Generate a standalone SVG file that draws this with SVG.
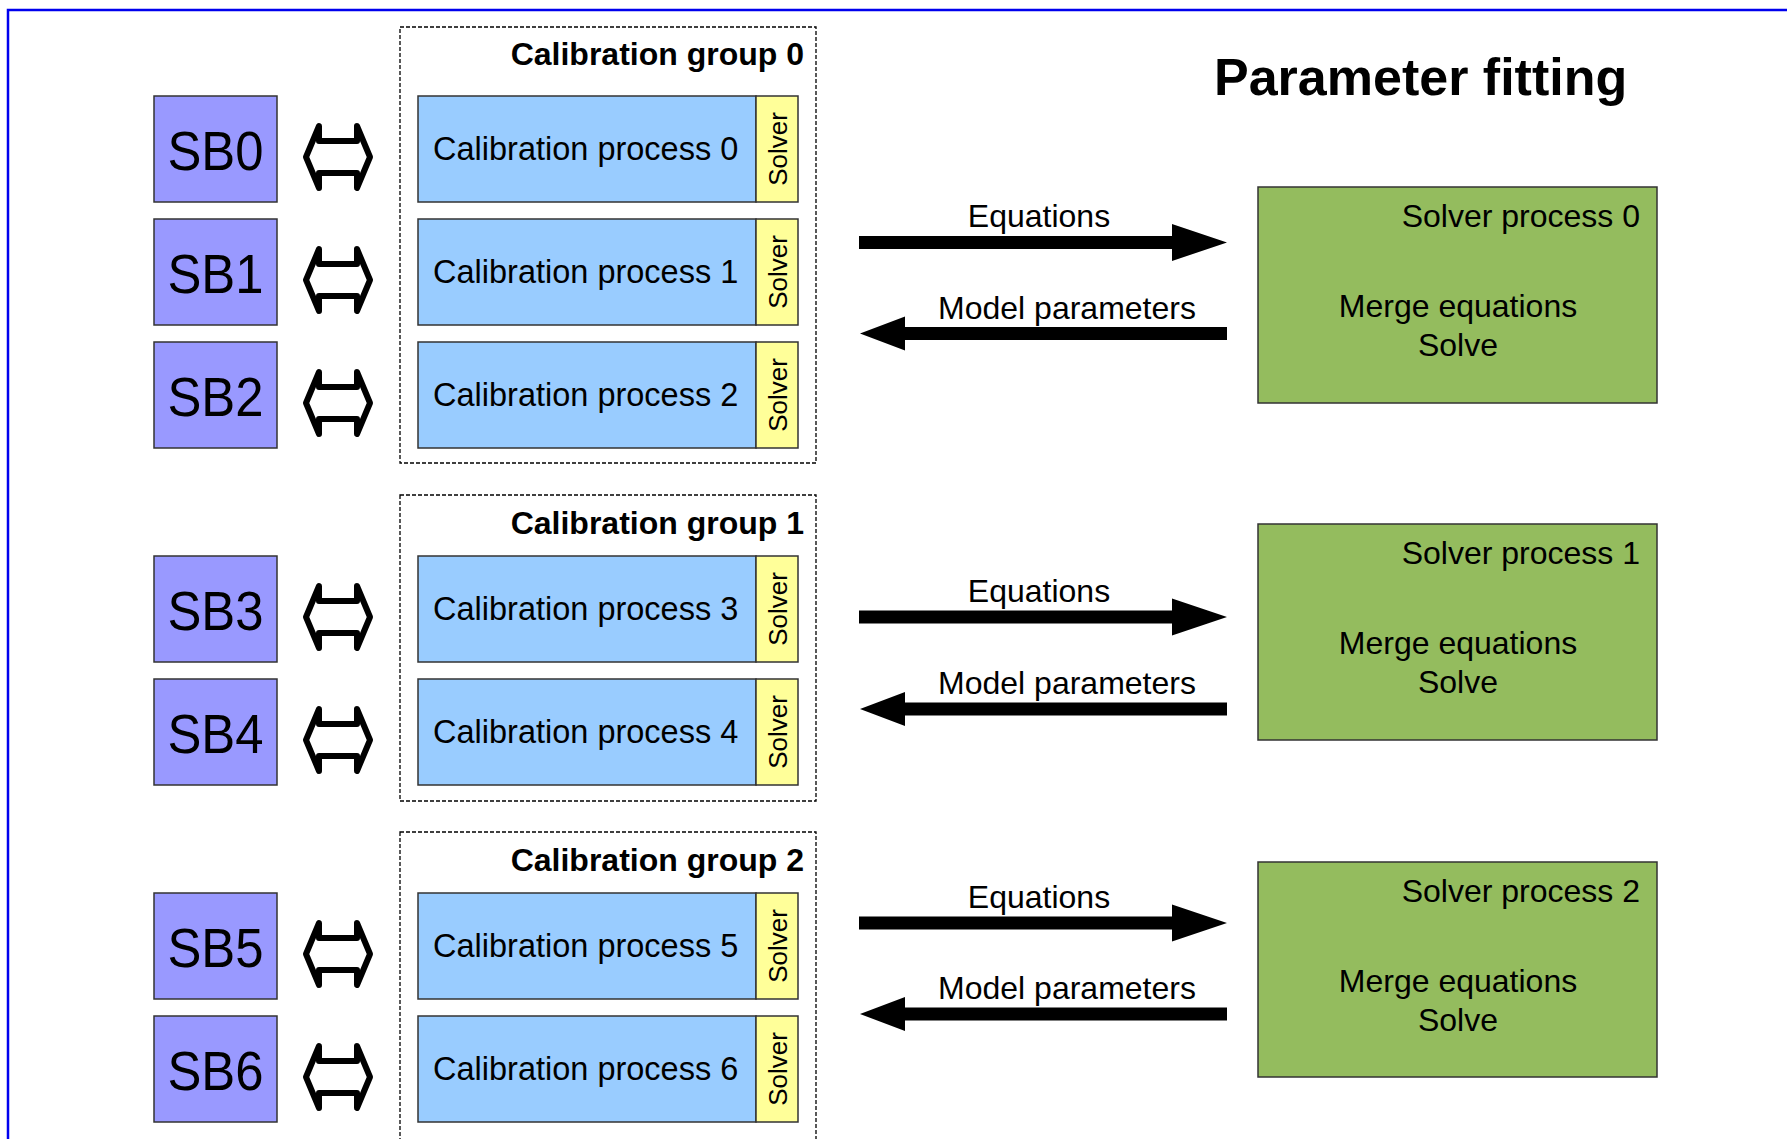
<svg xmlns="http://www.w3.org/2000/svg" width="1787" height="1139" viewBox="0 0 1787 1139">
<style>
text{font-family:"Liberation Sans",Arial,sans-serif;fill:#000}
.sb{fill:#9999ff;stroke:#333;stroke-width:1.5}
.cp{fill:#99ccff;stroke:#333;stroke-width:1.5}
.sv{fill:#ffff99;stroke:#333;stroke-width:1.5}
.sp{fill:#94bc5e;stroke:#333;stroke-width:1.5}
.grp{fill:none;stroke:#000;stroke-width:1.3;stroke-dasharray:4,2}
.sbt{font-size:56px;text-anchor:middle}
.cpt{font-size:32.5px}
.svt{font-size:26px;text-anchor:middle}
.gt{font-size:32px;font-weight:bold;text-anchor:end}
.lbl{font-size:32px;text-anchor:middle}
.spt{font-size:32px}
.dbl{fill:#fff;stroke:#000;stroke-width:6;stroke-linejoin:round}
.arr{fill:#000}
</style>
<defs>
<polygon id="dbl" class="dbl" points="-19,-31 -19,-16 19,-16 19,-31 32,0 19,31 19,16 -19,16 -19,31 -32,0"/>
<polygon id="ar" class="arr" points="0,-6.5 313,-6.5 313,-18.5 368,0 313,18.5 313,6.5 0,6.5"/>
<polygon id="al" class="arr" points="0,0 45,-17 45,-6.5 367,-6.5 367,6.5 45,6.5 45,17"/>
</defs>
<path d="M8,1139 V10 H1787" fill="none" stroke="#0000ee" stroke-width="2.5"/>
<text x="1214" y="95" style="font-size:52px;font-weight:bold">Parameter fitting</text>

<g id="group0">
<rect class="grp" x="400" y="27" width="416" height="436"/>
<text class="gt" x="804" y="65">Calibration group 0</text>
</g>
<g id="group1">
<rect class="grp" x="400" y="495" width="416" height="306"/>
<text class="gt" x="804" y="534">Calibration group 1</text>
</g>
<g id="group2">
<rect class="grp" x="400" y="832" width="416" height="330"/>
<text class="gt" x="804" y="871">Calibration group 2</text>
</g>

<g id="sb0"><rect class="sb" x="154" y="96" width="123" height="106"/><text class="sbt" x="215.5" y="170" textLength="96" lengthAdjust="spacingAndGlyphs">SB0</text></g>
<g id="sb1"><rect class="sb" x="154" y="219" width="123" height="106"/><text class="sbt" x="215.5" y="293" textLength="96" lengthAdjust="spacingAndGlyphs">SB1</text></g>
<g id="sb2"><rect class="sb" x="154" y="342" width="123" height="106"/><text class="sbt" x="215.5" y="416" textLength="96" lengthAdjust="spacingAndGlyphs">SB2</text></g>
<g id="sb3"><rect class="sb" x="154" y="556" width="123" height="106"/><text class="sbt" x="215.5" y="630" textLength="96" lengthAdjust="spacingAndGlyphs">SB3</text></g>
<g id="sb4"><rect class="sb" x="154" y="679" width="123" height="106"/><text class="sbt" x="215.5" y="753" textLength="96" lengthAdjust="spacingAndGlyphs">SB4</text></g>
<g id="sb5"><rect class="sb" x="154" y="893" width="123" height="106"/><text class="sbt" x="215.5" y="967" textLength="96" lengthAdjust="spacingAndGlyphs">SB5</text></g>
<g id="sb6"><rect class="sb" x="154" y="1016" width="123" height="106"/><text class="sbt" x="215.5" y="1090" textLength="96" lengthAdjust="spacingAndGlyphs">SB6</text></g>

<g id="cp0"><rect class="cp" x="418" y="96" width="338" height="106"/><rect class="sv" x="756" y="96" width="42" height="106"/><text class="cpt" x="433" y="160">Calibration process 0</text><text class="svt" transform="translate(787,149) rotate(-90)">Solver</text></g>
<g id="cp1"><rect class="cp" x="418" y="219" width="338" height="106"/><rect class="sv" x="756" y="219" width="42" height="106"/><text class="cpt" x="433" y="283">Calibration process 1</text><text class="svt" transform="translate(787,272) rotate(-90)">Solver</text></g>
<g id="cp2"><rect class="cp" x="418" y="342" width="338" height="106"/><rect class="sv" x="756" y="342" width="42" height="106"/><text class="cpt" x="433" y="406">Calibration process 2</text><text class="svt" transform="translate(787,395) rotate(-90)">Solver</text></g>
<g id="cp3"><rect class="cp" x="418" y="556" width="338" height="106"/><rect class="sv" x="756" y="556" width="42" height="106"/><text class="cpt" x="433" y="620">Calibration process 3</text><text class="svt" transform="translate(787,609) rotate(-90)">Solver</text></g>
<g id="cp4"><rect class="cp" x="418" y="679" width="338" height="106"/><rect class="sv" x="756" y="679" width="42" height="106"/><text class="cpt" x="433" y="743">Calibration process 4</text><text class="svt" transform="translate(787,732) rotate(-90)">Solver</text></g>
<g id="cp5"><rect class="cp" x="418" y="893" width="338" height="106"/><rect class="sv" x="756" y="893" width="42" height="106"/><text class="cpt" x="433" y="957">Calibration process 5</text><text class="svt" transform="translate(787,946) rotate(-90)">Solver</text></g>
<g id="cp6"><rect class="cp" x="418" y="1016" width="338" height="106"/><rect class="sv" x="756" y="1016" width="42" height="106"/><text class="cpt" x="433" y="1080">Calibration process 6</text><text class="svt" transform="translate(787,1069) rotate(-90)">Solver</text></g>

<g id="sp0"><rect class="sp" x="1258" y="187" width="399" height="216"/><text class="spt" x="1640" y="227" text-anchor="end">Solver process 0</text><text class="spt" x="1458" y="317" text-anchor="middle">Merge equations</text><text class="spt" x="1458" y="356" text-anchor="middle">Solve</text></g>
<g id="sp1"><rect class="sp" x="1258" y="524" width="399" height="216"/><text class="spt" x="1640" y="564" text-anchor="end">Solver process 1</text><text class="spt" x="1458" y="654" text-anchor="middle">Merge equations</text><text class="spt" x="1458" y="693" text-anchor="middle">Solve</text></g>
<g id="sp2"><rect class="sp" x="1258" y="862" width="399" height="215"/><text class="spt" x="1640" y="902" text-anchor="end">Solver process 2</text><text class="spt" x="1458" y="992" text-anchor="middle">Merge equations</text><text class="spt" x="1458" y="1031" text-anchor="middle">Solve</text></g>

<g id="connectors">
<use href="#dbl" x="338" y="157"/>
<use href="#dbl" x="338" y="280"/>
<use href="#dbl" x="338" y="403"/>
<use href="#dbl" x="338" y="617"/>
<use href="#dbl" x="338" y="740"/>
<use href="#dbl" x="338" y="954"/>
<use href="#dbl" x="338" y="1077"/>
<use href="#ar" x="859" y="242.5"/>
<use href="#al" x="860" y="333.5"/>
<use href="#ar" x="859" y="617"/>
<use href="#al" x="860" y="709"/>
<use href="#ar" x="859" y="923"/>
<use href="#al" x="860" y="1014"/>
<text class="lbl" x="1039" y="227">Equations</text>
<text class="lbl" x="1067" y="319">Model parameters</text>
<text class="lbl" x="1039" y="602">Equations</text>
<text class="lbl" x="1067" y="694">Model parameters</text>
<text class="lbl" x="1039" y="908">Equations</text>
<text class="lbl" x="1067" y="999">Model parameters</text>
</g>
</svg>
